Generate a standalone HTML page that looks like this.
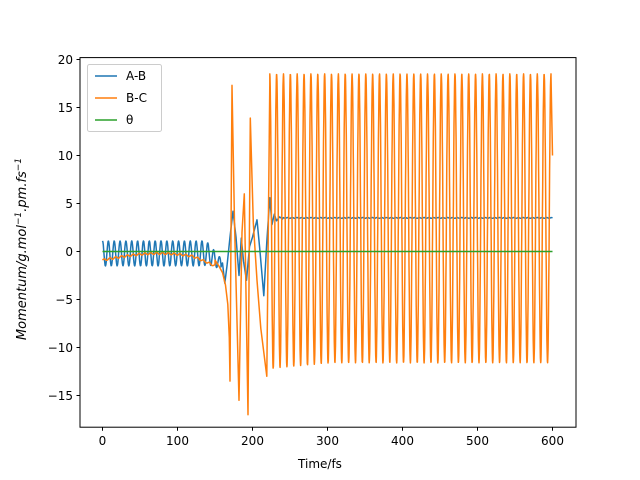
<!DOCTYPE html>
<html><head><meta charset="utf-8"><style>
body{margin:0;background:#fff;}
svg{display:block;font-family:"DejaVu Sans","Liberation Sans",sans-serif;}
</style></head><body>
<svg id="s" width="640" height="480" xmlns="http://www.w3.org/2000/svg">
<rect width="640" height="480" fill="#fff"/>
<g id="plot"></g>
<rect x="80" y="57.6" width="496" height="369.6" fill="none" stroke="#000" stroke-width="1"/>
<g font-size="12" fill="#000" text-anchor="middle">
<g stroke="#000">
<line x1="102.5" y1="427.2" x2="102.5" y2="430.7"/><line x1="177.5" y1="427.2" x2="177.5" y2="430.7"/><line x1="252.5" y1="427.2" x2="252.5" y2="430.7"/><line x1="327.5" y1="427.2" x2="327.5" y2="430.7"/><line x1="402.5" y1="427.2" x2="402.5" y2="430.7"/><line x1="477.5" y1="427.2" x2="477.5" y2="430.7"/><line x1="552.5" y1="427.2" x2="552.5" y2="430.7"/>
<line x1="76.5" y1="59.5" x2="80" y2="59.5"/><line x1="76.5" y1="107.5" x2="80" y2="107.5"/><line x1="76.5" y1="155.5" x2="80" y2="155.5"/><line x1="76.5" y1="203.5" x2="80" y2="203.5"/><line x1="76.5" y1="251.5" x2="80" y2="251.5"/><line x1="76.5" y1="299.5" x2="80" y2="299.5"/><line x1="76.5" y1="347.5" x2="80" y2="347.5"/><line x1="76.5" y1="395.5" x2="80" y2="395.5"/>
</g>
<text x="102.5" y="445">0</text><text x="177.5" y="445">100</text><text x="252.5" y="445">200</text><text x="327.5" y="445">300</text><text x="402.5" y="445">400</text><text x="477.5" y="445">500</text><text x="552.5" y="445">600</text>
<g text-anchor="end">
<text x="73" y="64">20</text><text x="73" y="112">15</text><text x="73" y="160">10</text><text x="73" y="208">5</text><text x="73" y="256">0</text><text x="73" y="304">−5</text><text x="73" y="352">−10</text><text x="73" y="400">−15</text>
</g>
<text x="320" y="468">Time/fs</text>
<text transform="translate(26,249) rotate(-90)" font-size="13" font-style="italic">Momentum/g.mol<tspan font-size="9" dy="-5">−1</tspan><tspan dy="5">.pm.fs</tspan><tspan font-size="9" dy="-5">−1</tspan></text>
</g>
<g>
<rect x="87.5" y="64.5" width="74" height="67" rx="2" fill="#fff" fill-opacity="0.8" stroke="#ccc"/>
<line x1="95" y1="76" x2="117" y2="76" stroke="#1f77b4" stroke-width="1.5"/>
<line x1="95" y1="98" x2="117" y2="98" stroke="#ff7f0e" stroke-width="1.5"/>
<line x1="95" y1="120" x2="117" y2="120" stroke="#2ca02c" stroke-width="1.5"/>
<g font-size="12"><text x="126" y="80">A-B</text><text x="126" y="102">B-C</text><text x="126" y="124">θ</text></g>
</g>
</svg>
<script>
function X(t){return 102.5+0.75*t;}
function Y(v){return 251.5-9.6*v;}
var blue=[],orange=[];
for(var t=0;t<=158;t+=0.5){var a=1.3*(t<135?1:Math.max(0.4,1-(t-135)/40));var c=-0.2-(t>140?(t-140)*0.06:0);blue.push([X(t),Y(c+a*Math.cos(2*Math.PI*t/7.8))]);}
var bk=[[158,-1.6],[160,-1.2],[163,-3.3],[166,-1.5],[170,1.5],[174,4.2],[178,1.5],[182,-2.5],[185,1.4],[188,-1],[192,-3.0],[196,0.5],[200,1.5],[206,3.3],[210,0],[215,-4.6],[219,1],[223,5.6],[226,2.8],[229,3.9],[232,3.2],[236,3.6],[240,3.4]];
for(var i=0;i<bk.length;i++)blue.push([X(bk[i][0]),Y(bk[i][1])]);
for(var t=241;t<=600;t+=1){blue.push([X(t),Y(3.5+0.04*Math.sin(t))]);}
for(var t=0;t<=150;t+=1){var v=-0.9+0.7*Math.sin(Math.PI*t/150)+0.1*Math.sin(2*Math.PI*t/7.8)-(t>120?(t-120)*0.02:0);orange.push([X(t),Y(v)]);}
var ok=[[150,-0.9],[155,-1.5],[160,-2.2],[164,-3.5],[167,-5.5],[169,-9],[170,-13.5],[172.7,17.3],[176,3],[182,-15.5],[186,2],[189,6],[191.5,-5],[194,-17],[197,13.9],[201,3],[206,-3],[211,-8],[219,-13],[223,17.5]];
for(var i=0;i<ok.length;i++)orange.push([X(ok[i][0]),Y(ok[i][1])]);
var P=375/41;
for(var t=223;t<=598.01;t+=0.3){var ph=(t-223)/P;var hi=18.5,lo=-12.2+0.6*Math.min(1,(t-223)/80);var s=Math.cos(2*Math.PI*ph);var v=(hi+lo)/2+s*(hi-lo)/2;orange.push([X(t),Y(v)]);}
orange.push([X(598),Y(18.3)]);
orange.push([X(600),Y(10)]);
function path(p,col){var d="M"+p.map(function(q){return q[0].toFixed(1)+","+q[1].toFixed(1);}).join("L");return '<path d="'+d+'" fill="none" stroke="'+col+'" stroke-width="1.5" stroke-linejoin="round"/>';}
document.getElementById("plot").innerHTML=path(blue,"#1f77b4")+path(orange,"#ff7f0e")+'<line x1="'+X(0)+'" y1="'+Y(0)+'" x2="'+X(600)+'" y2="'+Y(0)+'" stroke="#2ca02c" stroke-width="1.5"/>';
</script>
</body></html>
